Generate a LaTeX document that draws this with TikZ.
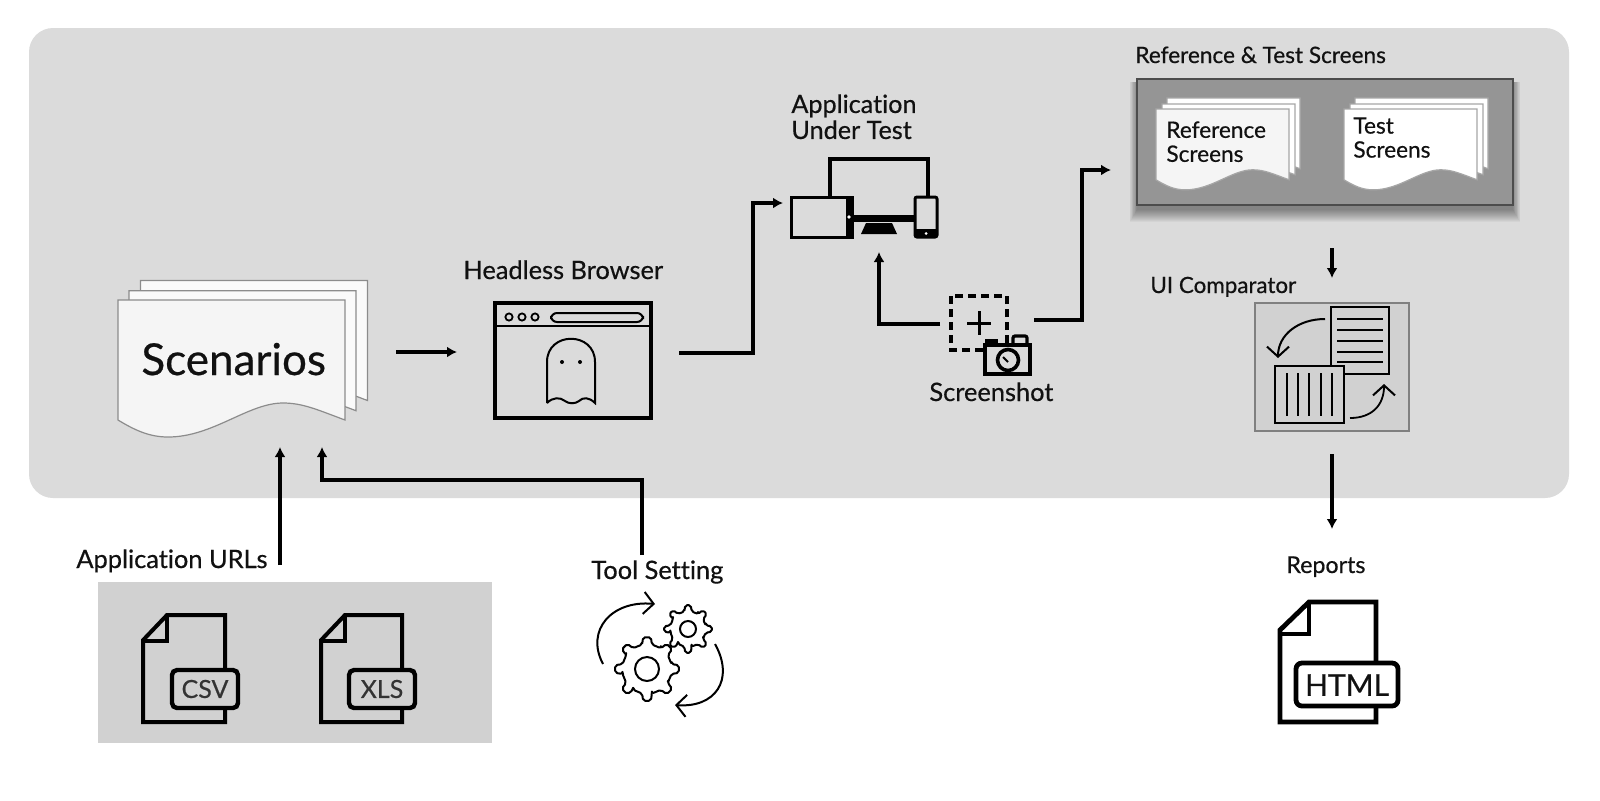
\documentclass[tikz,border=0pt]{standalone}
\usepackage{fontspec}
\setmainfont[Ligatures=NoCommon,RawFeature={embolden=0.5}]{Lato}
\usetikzlibrary{arrows.meta,calc}
\definecolor{panelbg}{HTML}{DBDBDB}
\definecolor{sidebg}{HTML}{D1D1D1}
\definecolor{darkbox}{HTML}{959595}
\definecolor{ink}{HTML}{111111}
\tikzset{
  lab/.style={anchor=base west,inner sep=0pt,text=ink,font=\fontsize{12.7}{14}\selectfont},
  ctr/.style={anchor=center,inner sep=0pt,text=ink},
  conn/.style={draw=black,line width=1.7pt,-{Latex[length=5pt,width=5.5pt]}},
  icon/.style={draw=black,line width=2pt,line join=miter},
  thinicon/.style={draw=black,line width=1pt},
  barb/.style={draw=black,line width=1pt,-{Straight Barb[length=5pt,width=11pt,line width=1pt]}}
}
% page shape, top-left at (#1,#2), scales #3 #4, draw #5 fill #6
\newcommand{\pagesheet}[6]{%
  \begin{scope}[shift={(#1,#2)},xscale=#3,yscale=#4]
  \path[draw=#5,fill=#6,line width=.6pt] (0,0) -- (227,0) -- (227,120)
    .. controls (200,110) and (185,103) .. (165,103)
    .. controls (130,103) and (95,137) .. (50,137)
    .. controls (30,137) and (15,129) .. (0,120) -- cycle;
  \end{scope}}
% file icon: left,top,right,bottom, fold size x, line width
\newcommand{\fileicon}[6]{%
  \draw[icon,line width=#6pt] (#1+#5,#2) -- (#3,#2) -- (#3,#4) -- (#1,#4) -- (#1,#2+#5*1.05) -- cycle;
  \draw[icon,line width=#6pt] (#1,#2+#5*1.1) -- (#1+#5,#2+#5*1.1) -- (#1+#5,#2);}
\newcommand{\gearicon}[5]{% cx cy inner root outer
  \begin{scope}[shift={(#1,#2)}]
  \draw[thinicon,rounded corners=1pt,line join=round] (-11.25:#4)
    \foreach \a in {0,45,...,315} {
      -- ({\a-11.25}:#4) -- ({\a-7}:#5) -- ({\a+7}:#5) -- ({\a+11.25}:#4) -- ({\a+33.75}:#4)
    } -- cycle;
  \draw[thinicon] (0,0) circle[radius=#3];
  \end{scope}}
\begin{document}
\begin{tikzpicture}[x=.5pt,y=-.5pt]
\useasboundingbox (0,0) rectangle (1600,800);
\fill[white] (0,0) rectangle (1600,800);
\fill[panelbg,rounded corners=12pt] (29,28) rectangle (1569,498);
\fill[sidebg] (98,582) rectangle (492,743);

% Scenarios stack
\pagesheet{140.5}{280.5}{1}{1}{gray!90}{white!98!black}
\pagesheet{129}{290.7}{1}{1}{gray!90}{white!98!black}
\pagesheet{118}{300}{1}{1}{gray!90}{white!96!black}
\node[lab,font=\fontsize{22}{26}\selectfont] (scen) at (141,375) {Scenarios};

% Headless browser
\node[lab] (hbl) at (463,279) {Headless Browser};
\draw[icon] (494.5,303) rectangle (650.5,418);
\draw[icon,line width=1.4pt] (494.5,326) -- (650.5,326);
\foreach \cx in {509,522,535} \draw[thinicon,line width=.9pt] (\cx,317) circle[radius=3.6];
\draw[thinicon,rounded corners=3pt] (551,313) rectangle (643,322);
\draw[thinicon] (547,403) -- (547,362) .. controls (547,331) and (595,331) .. (595,362) -- (595,403)
  .. controls (589,397) and (583,397) .. (579,401) .. controls (575,404) and (569,404) .. (565,401) .. controls (560,397) and (553,397) .. (547,403);
\fill (562,362) circle[radius=2] (580,362) circle[radius=2];

% AUT
\node[lab,anchor=north west,align=left,font=\fontsize{12.6}{13}\selectfont] (autl) at (791,94) {Application\\Under Test};
\draw[icon] (830,197) -- (830,159) -- (928,159) -- (928,197);
\draw[icon,line width=1.5pt] (791,197) rectangle (852,237);
\fill (846,196) rectangle (853,238);
\fill[white] (849,217) circle[radius=1.8];
\fill (852,215) rectangle (916,222);
\fill (866,223) -- (892,223) -- (897,234) -- (861,234) -- cycle;
\draw[icon,line width=1.5pt,rounded corners=1pt] (915,197) rectangle (937,237);
\fill (915,229) rectangle (937,238);
\fill[white] (926,233.5) circle[radius=1.5];
\coordinate (autin) at (783,203);
\coordinate (autbot) at (879,252);

% Screenshot
\draw[icon,dash pattern=on 4pt off 2.5pt] (951,296) rectangle (1007,350);
\draw[icon,line width=1.5pt] (967,323) -- (991,323) (979,311) -- (979,335);
\draw[icon,line width=1.6pt,fill=panelbg] (987,345) -- (987,341) -- (996,341) -- (996,345);
\draw[icon,line width=1.6pt,fill=panelbg,rounded corners=1pt] (1013,345) -- (1013,336) -- (1027,336) -- (1027,345);
\draw[icon,fill=panelbg,line width=1.8pt] (985,345) rectangle (1030,374);
\draw[icon,line width=1.8pt] (1008,360) circle[radius=10.5];
\draw[thinicon] (1003,357) -- (1008,362);
\node[lab] (shotl) at (929,401) {Screenshot};
\coordinate (shotl1) at (940,324);
\coordinate (shotr1) at (1034,320);

% Reference & Test Screens
\node[lab,font=\fontsize{11.3}{13}\selectfont] (rtl) at (1135,63) {Reference \& Test Screens};
\foreach \s in {12,11,...,0}
  \fill[black,opacity=.035] (1137-\s*.6,79+3) rectangle (1513+\s*.6,205+5+\s);
\draw[draw=gray!60!black,fill=darkbox,line width=.6pt] (1137,79) rectangle (1513,205);
\coordinate (rtin) at (1111,170);
\coordinate (rtout) at (1332,248);
\pagesheet{1167}{98}{.586}{.59}{gray!70}{white}
\pagesheet{1162}{104}{.586}{.59}{gray!70}{white}
\pagesheet{1156}{109}{.586}{.59}{gray!70}{white!96!black}
\pagesheet{1355}{98}{.586}{.59}{gray!70}{white}
\pagesheet{1350}{104}{.586}{.59}{gray!70}{white}
\pagesheet{1344}{109}{.586}{.59}{gray!70}{white}
\node[lab,anchor=north west,align=left,font=\fontsize{11.3}{12}\selectfont] (refl) at (1166,121) {Reference\\Screens};
\node[lab,anchor=north west,align=left,font=\fontsize{11.3}{12}\selectfont] (testl) at (1353,117) {Test\\Screens};

% UI comparator
\node[lab,font=\fontsize{11.2}{13}\selectfont] (uil) at (1150,293) {UI Comparator};
\coordinate (uiin) at (1332,278);
\coordinate (uiout) at (1332,454);
\draw[draw=gray,fill=sidebg,line width=.6pt] (1255,303) rectangle (1409,431);
\draw[icon,line width=1.4pt,fill=sidebg] (1331,307) rectangle (1389,374);
\foreach \yy in {319,330,341,352,362} \draw[thinicon,line width=1.1pt] (1337,\yy) -- (1383,\yy);
\draw[icon,line width=1.4pt,fill=sidebg] (1275,366) rectangle (1344,423);
\foreach \xx in {1287,1298,1309,1321,1332} \draw[thinicon,line width=1.1pt] (\xx,373) -- (\xx,416);
\draw[barb] (1325,319) .. controls (1298,319) and (1278,335) .. (1278,358);
\draw[barb,line width=.9pt] (1350,418) .. controls (1372,418) and (1384,405) .. (1384,384);

% Arrows
\coordinate (scenout) at (396,352);
\coordinate (hbin) at (457,352);
\coordinate (hbout) at (679,353);
\coordinate (scenin1) at (280,447);
\coordinate (scenin2) at (322,447);
\coordinate (urlsout) at (280,565);
\coordinate (toolout) at (642,555);
\coordinate (repin) at (1332,529);
\draw[conn] (scenout) -- (hbin);
\draw[conn] (hbout) -| (753,203) -- (autin);
\draw[conn] (shotl1) -| (autbot);
\draw[conn] (shotr1) -| (1082,170) -- (rtin);
\draw[conn] (rtout) -- (uiin);
\draw[conn] (uiout) -- (repin);
\draw[conn] (urlsout) -- (scenin1);
\draw[conn] (toolout) |- (322,480) -- (scenin2);

% Application URLs
\node[lab] (urll) at (76,568) {Application URLs};
\fileicon{143}{615}{225}{722}{24}{2}
\draw[icon,line width=2.2pt,fill=sidebg,rounded corners=2.5pt] (172,670) rectangle (238,708);
\node[ctr,font=\fontsize{12.5}{14}\selectfont,text=black!80] (csv) at (205,689) {CSV};
\fileicon{321}{615}{402}{722}{24}{2}
\draw[icon,line width=2.2pt,fill=sidebg,rounded corners=2.5pt] (349,670) rectangle (415,708);
\node[ctr,font=\fontsize{12.5}{14}\selectfont,text=black!80] (xls) at (382,689) {XLS};

% Tool Setting
\node[lab] (tooll) at (591,579) {Tool Setting};
\gearicon{647}{669}{12}{25}{32}
\gearicon{688}{629}{8}{18}{24}
\draw[barb] (603,664) .. controls (585,630) and (612,600) .. (655,604);
\draw[barb] (715,644) .. controls (735,680) and (715,708) .. (675,705);

% Reports
\node[lab,font=\fontsize{11.6}{13}\selectfont] (repl) at (1286,573) {Reports};
\draw[icon,line width=2.4pt] (1309,602) -- (1376,602) -- (1376,722) -- (1280,722) -- (1280,630) -- cycle;
\draw[icon,line width=2.4pt] (1280,634) -- (1309,634) -- (1309,602);
\draw[icon,line width=2.4pt,fill=white,rounded corners=3pt] (1296,663) rectangle (1398,706);
\node[ctr,font=\fontsize{15}{16}\selectfont] (html) at (1347,685) {HTML};
\end{tikzpicture}
\end{document}
